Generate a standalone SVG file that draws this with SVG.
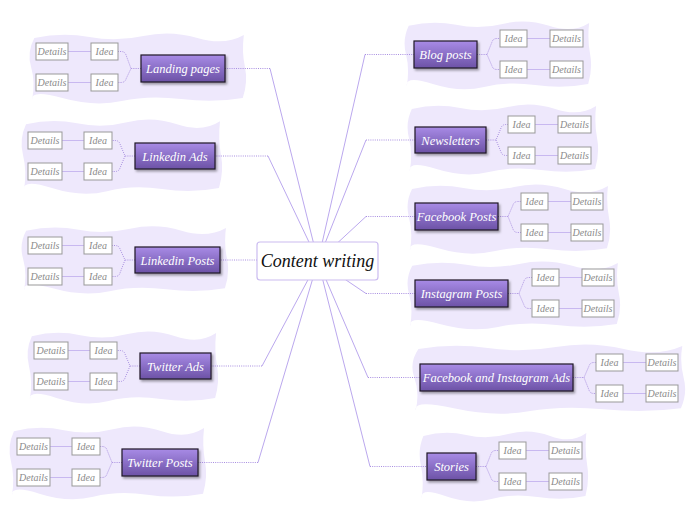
<svg xmlns="http://www.w3.org/2000/svg" width="696" height="520" viewBox="0 0 696 520">
<defs>
<linearGradient id="ng" x1="0" y1="0" x2="0" y2="1">
<stop offset="0" stop-color="#a88be6"/>
<stop offset="1" stop-color="#6c52a6"/>
</linearGradient>
<filter id="sh" x="-20%" y="-30%" width="140%" height="170%">
<feDropShadow dx="1.5" dy="2" stdDeviation="1.2" flood-color="#000" flood-opacity="0.35"/>
</filter>
<path id="blob" d="M4,6 Q30,0 55,5 T105,4 T155,6 T198,3 Q196,20 199,35 T197,66 Q170,71 140,67 T85,69 T30,66 T2,68 Q5,50 1,35 T4,6 Z"/>
</defs>
<style>
.bg{fill:#eee8fc}
.node rect.n{fill:url(#ng);stroke:#1e1a24;stroke-width:1.2;filter:url(#sh)}
.node text.n{fill:#fff;font-family:"Liberation Serif",serif;font-style:italic;font-size:12.5px;text-anchor:middle}
.sub rect{fill:#fff;stroke:#999;stroke-width:1}
.sub text{fill:#8a8a8a;font-family:"Liberation Serif",serif;font-style:italic;font-size:10px;text-anchor:middle}
.dot{fill:none;stroke:#a88ee0;stroke-width:1;stroke-dasharray:1 1.2}
.main{fill:none;stroke:#bba8ee;stroke-width:1}
.link{fill:none;stroke:#c8b8f0;stroke-width:1}
</style>

<g id="backgrounds">
<use href="#blob" class="bg" transform="translate(30,32) scale(1.08,1)"/>
<use href="#blob" class="bg" transform="translate(22,118) scale(1.0,1.06)"/>
<use href="#blob" class="bg" transform="translate(22,225) scale(1.03,0.96)"/>
<use href="#blob" class="bg" transform="translate(28,330) scale(0.95,1.03)"/>
<use href="#blob" class="bg" transform="translate(10,425) scale(0.98,1.04)"/>
<use href="#blob" class="bg" transform="translate(405,20) scale(0.93,0.97)"/>
<use href="#blob" class="bg" transform="translate(408,103) scale(0.95,1.0)"/>
<use href="#blob" class="bg" transform="translate(408,183) scale(1.01,0.99)"/>
<use href="#blob" class="bg" transform="translate(408,260) scale(1.06,0.97)"/>
<use href="#blob" class="bg" transform="translate(413,343) scale(1.36,0.99)"/>
<use href="#blob" class="bg" transform="translate(420,430) scale(0.84,1.0)"/>
</g>

<g id="connectors">
<path class="main" d="M318,261 L270,68.5"/><path class="dot" d="M270,68.5 H225"/>
<path class="main" d="M318,261 L268,156"/><path class="dot" d="M268,156 H215"/>
<path class="dot" d="M257,260 H220"/>
<path class="main" d="M318,261 L262,366"/><path class="dot" d="M262,366 H211"/>
<path class="main" d="M318,261 L258,462.5"/><path class="dot" d="M258,462.5 H198"/>
<path class="main" d="M318,261 L365,54.5"/><path class="dot" d="M365,54.5 H414"/>
<path class="main" d="M318,261 L366,140"/><path class="dot" d="M366,140 H415"/>
<path class="main" d="M318,261 L366,216.5"/><path class="dot" d="M366,216.5 H415"/>
<path class="main" d="M318,261 L366,293.5"/><path class="dot" d="M366,293.5 H415"/>
<path class="main" d="M318,261 L368,377.5"/><path class="dot" d="M368,377.5 H420"/>
<path class="main" d="M318,261 L370,466.5"/><path class="dot" d="M370,466.5 H427"/>

<path class="dot" d="M141,68.5 H131 L126,55 Q125,51.5 121,51.5 H118 M131,68.5 L126,79 Q125,82.5 121,82.5 H118"/>
<path class="dot" d="M135,156 H125 L120,144 Q119,140.5 115,140.5 H112 M125,156 L120,168 Q119,171.5 115,171.5 H112"/>
<path class="dot" d="M135,260 H125 L120,249 Q119,245.5 115,245.5 H112 M125,260 L120,273 Q119,276.5 115,276.5 H112"/>
<path class="dot" d="M140,366 H130 L125,354 Q124,350.5 120,350.5 H117 M130,366 L125,378 Q124,381.5 120,381.5 H117"/>
<path class="dot" d="M122,462.5 H112 L107,450 Q106,446.5 102,446.5 H100 M112,462.5 L107,474 Q106,477.5 102,477.5 H100"/>
<path class="dot" d="M477,54.5 H487 L492,42 Q493,38.5 497,38.5 H500 M487,54.5 L492,66 Q493,69.5 497,69.5 H500"/>
<path class="dot" d="M486,140 H496 L501,128 Q502,124.5 506,124.5 H508 M496,140 L501,152 Q502,155.5 506,155.5 H508"/>
<path class="dot" d="M498,216.5 H508 L513,205 Q514,201.5 518,201.5 H521 M508,216.5 L513,229 Q514,232.5 518,232.5 H521"/>
<path class="dot" d="M508,293.5 H519 L524,281 Q525,277.5 529,277.5 H532 M519,293.5 L524,305 Q525,308.5 529,308.5 H532"/>
<path class="dot" d="M573,377.5 H584 L589,366 Q590,362.5 594,362.5 H596 M584,377.5 L589,390 Q590,393.5 594,393.5 H596"/>
<path class="dot" d="M476,466.5 H486 L491,454 Q492,450.5 496,450.5 H499 M486,466.5 L491,478 Q492,481.5 496,481.5 H499"/>

<path class="link" d="M68,51.5 H91 M68,82.5 H91"/>
<path class="link" d="M62,140.5 H84 M62,171.5 H84"/>
<path class="link" d="M62,245.5 H84 M62,276.5 H84"/>
<path class="link" d="M68,350.5 H90 M68,381.5 H90"/>
<path class="link" d="M50,446.5 H72 M50,477.5 H72"/>
<path class="link" d="M527,38.5 H550 M527,69.5 H550"/>
<path class="link" d="M535,124.5 H558 M535,155.5 H558"/>
<path class="link" d="M548,201.5 H571 M548,232.5 H571"/>
<path class="link" d="M559,277.5 H582 M559,308.5 H582"/>
<path class="link" d="M623,362.5 H646 M623,393.5 H646"/>
<path class="link" d="M526,450.5 H549 M526,481.5 H549"/>
</g>

<g id="center">
<rect x="257" y="242" width="121" height="38" rx="3" fill="#fff" stroke="#cbbcf0" stroke-width="1.2"/>
<text x="317.5" y="267" fill="#111" font-family="'Liberation Serif',serif" font-style="italic" font-size="18" text-anchor="middle">Content writing</text>
</g>

<g id="landing-pages" class="node">
<rect class="n" x="141" y="55" width="84" height="27"/><text class="n" x="183" y="73">Landing pages</text>
<g class="sub"><rect x="91" y="43" width="27" height="17"/><text x="104.5" y="55">Idea</text><rect x="91" y="74" width="27" height="17"/><text x="104.5" y="86">Idea</text>
<rect x="36" y="43" width="32" height="17"/><text x="52" y="55">Details</text><rect x="36" y="74" width="32" height="17"/><text x="52" y="86">Details</text></g>
</g>

<g id="linkedin-ads" class="node">
<rect class="n" x="135" y="143" width="80" height="26"/><text class="n" x="175" y="160.5">Linkedin Ads</text>
<g class="sub"><rect x="84" y="132" width="28" height="17"/><text x="98" y="144">Idea</text><rect x="84" y="163" width="28" height="17"/><text x="98" y="175">Idea</text>
<rect x="28" y="132" width="34" height="17"/><text x="45" y="144">Details</text><rect x="28" y="163" width="34" height="17"/><text x="45" y="175">Details</text></g>
</g>

<g id="linkedin-posts" class="node">
<rect class="n" x="135" y="247" width="85" height="26"/><text class="n" x="177.5" y="264.5">Linkedin Posts</text>
<g class="sub"><rect x="84" y="237" width="28" height="17"/><text x="98" y="249">Idea</text><rect x="84" y="268" width="28" height="17"/><text x="98" y="280">Idea</text>
<rect x="28" y="237" width="34" height="17"/><text x="45" y="249">Details</text><rect x="28" y="268" width="34" height="17"/><text x="45" y="280">Details</text></g>
</g>

<g id="twitter-ads" class="node">
<rect class="n" x="140" y="353" width="71" height="26"/><text class="n" x="175.5" y="370.5">Twitter Ads</text>
<g class="sub"><rect x="90" y="342" width="27" height="17"/><text x="103.5" y="354">Idea</text><rect x="90" y="373" width="27" height="17"/><text x="103.5" y="385">Idea</text>
<rect x="34" y="342" width="34" height="17"/><text x="51" y="354">Details</text><rect x="34" y="373" width="34" height="17"/><text x="51" y="385">Details</text></g>
</g>

<g id="twitter-posts" class="node">
<rect class="n" x="122" y="449" width="76" height="27"/><text class="n" x="160" y="467">Twitter Posts</text>
<g class="sub"><rect x="72" y="438" width="28" height="17"/><text x="86" y="450">Idea</text><rect x="72" y="469" width="28" height="17"/><text x="86" y="481">Idea</text>
<rect x="17" y="438" width="33" height="17"/><text x="33.5" y="450">Details</text><rect x="17" y="469" width="33" height="17"/><text x="33.5" y="481">Details</text></g>
</g>

<g id="blog-posts" class="node">
<rect class="n" x="414" y="41" width="63" height="27"/><text class="n" x="445.5" y="59">Blog posts</text>
<g class="sub"><rect x="500" y="30" width="27" height="17"/><text x="513.5" y="42">Idea</text><rect x="500" y="61" width="27" height="17"/><text x="513.5" y="73">Idea</text>
<rect x="550" y="30" width="33" height="17"/><text x="566.5" y="42">Details</text><rect x="550" y="61" width="33" height="17"/><text x="566.5" y="73">Details</text></g>
</g>

<g id="newsletters" class="node">
<rect class="n" x="415" y="127" width="71" height="26"/><text class="n" x="450.5" y="144.5">Newsletters</text>
<g class="sub"><rect x="508" y="116" width="27" height="17"/><text x="521.5" y="128">Idea</text><rect x="508" y="147" width="27" height="17"/><text x="521.5" y="159">Idea</text>
<rect x="558" y="116" width="33" height="17"/><text x="574.5" y="128">Details</text><rect x="558" y="147" width="33" height="17"/><text x="574.5" y="159">Details</text></g>
</g>

<g id="facebook-posts" class="node">
<rect class="n" x="415" y="203" width="83" height="27"/><text class="n" x="456.5" y="221">Facebook Posts</text>
<g class="sub"><rect x="521" y="193" width="27" height="17"/><text x="534.5" y="205">Idea</text><rect x="521" y="224" width="27" height="17"/><text x="534.5" y="236">Idea</text>
<rect x="571" y="193" width="32" height="17"/><text x="587" y="205">Details</text><rect x="571" y="224" width="32" height="17"/><text x="587" y="236">Details</text></g>
</g>

<g id="instagram-posts" class="node">
<rect class="n" x="415" y="280" width="93" height="27"/><text class="n" x="461.5" y="298">Instagram Posts</text>
<g class="sub"><rect x="532" y="269" width="27" height="17"/><text x="545.5" y="281">Idea</text><rect x="532" y="300" width="27" height="17"/><text x="545.5" y="312">Idea</text>
<rect x="582" y="269" width="32" height="17"/><text x="598" y="281">Details</text><rect x="582" y="300" width="32" height="17"/><text x="598" y="312">Details</text></g>
</g>

<g id="facebook-instagram-ads" class="node">
<rect class="n" x="420" y="364" width="153" height="27"/><text class="n" x="496.5" y="382">Facebook and Instagram Ads</text>
<g class="sub"><rect x="596" y="354" width="27" height="17"/><text x="609.5" y="366">Idea</text><rect x="596" y="385" width="27" height="17"/><text x="609.5" y="397">Idea</text>
<rect x="646" y="354" width="32" height="17"/><text x="662" y="366">Details</text><rect x="646" y="385" width="32" height="17"/><text x="662" y="397">Details</text></g>
</g>

<g id="stories" class="node">
<rect class="n" x="427" y="453" width="49" height="27"/><text class="n" x="451.5" y="471">Stories</text>
<g class="sub"><rect x="499" y="442" width="27" height="17"/><text x="512.5" y="454">Idea</text><rect x="499" y="473" width="27" height="17"/><text x="512.5" y="485">Idea</text>
<rect x="549" y="442" width="33" height="17"/><text x="565.5" y="454">Details</text><rect x="549" y="473" width="33" height="17"/><text x="565.5" y="485">Details</text></g>
</g>
</svg>
